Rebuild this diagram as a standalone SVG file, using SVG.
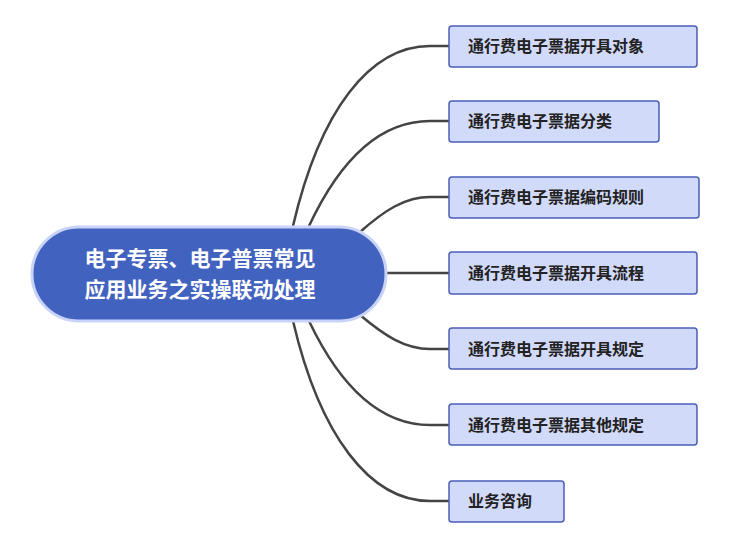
<svg xmlns="http://www.w3.org/2000/svg" width="736" height="540" viewBox="0 0 736 540">
<style>
.c{fill:none;stroke:#444;stroke-width:2.5}
.b{fill:#D2DAFA;stroke:#4A5FB8;stroke-width:1.5}
.t{font-family:"Noto Sans CJK SC",sans-serif;font-weight:bold;font-size:16px;fill:#222}
.m{font-family:"Noto Sans CJK SC",sans-serif;font-weight:bold;font-size:21px;fill:#fff}
</style>
<rect width="736" height="540" fill="#fff"/>
<g id="connectors">
<path class="c" d="M293,226 C320,110 370,46 430,46 L449,46"/>
<path class="c" d="M309,226 C340,160 380,121 430,121 L449,121"/>
<path class="c" d="M360,232 C385,210 405,197 430,197 L449,197"/>
<path class="c" d="M386,273 L449,273"/>
<path class="c" d="M360,315 C385,336 405,349 430,349 L449,349"/>
<path class="c" d="M309,321 C340,386 380,425 430,425 L449,425"/>
<path class="c" d="M293,321 C320,436 370,501 430,501 L449,501"/>
</g>
<g id="root"><rect x="32" y="227" width="354" height="94" rx="47" fill="#4262C0" stroke="#C8D3F7" stroke-width="3"/>
<text class="m" x="200" y="266" text-anchor="middle">电子专票、电子普票常见</text>
<text class="m" x="200" y="297" text-anchor="middle">应用业务之实操联动处理</text></g>
<g id="n1"><rect class="b" x="449" y="26" width="248" height="41" rx="3"/><text class="t" x="468" y="52">通行费电子票据开具对象</text></g>
<g id="n2"><rect class="b" x="449" y="101" width="210" height="41" rx="3"/><text class="t" x="468" y="127">通行费电子票据分类</text></g>
<g id="n3"><rect class="b" x="449" y="177" width="250" height="41" rx="3"/><text class="t" x="468" y="203">通行费电子票据编码规则</text></g>
<g id="n4"><rect class="b" x="449" y="252" width="248" height="42" rx="3"/><text class="t" x="468" y="279">通行费电子票据开具流程</text></g>
<g id="n5"><rect class="b" x="449" y="328" width="248" height="41" rx="3"/><text class="t" x="468" y="355">通行费电子票据开具规定</text></g>
<g id="n6"><rect class="b" x="449" y="404" width="248" height="41" rx="3"/><text class="t" x="468" y="431">通行费电子票据其他规定</text></g>
<g id="n7"><rect class="b" x="449" y="481" width="115" height="41" rx="3"/><text class="t" x="468" y="507">业务咨询</text></g>
</svg>
